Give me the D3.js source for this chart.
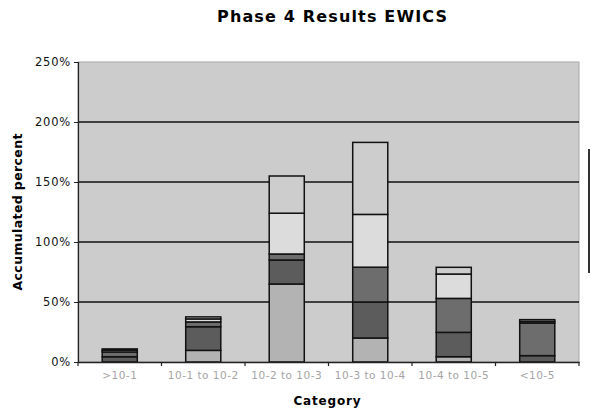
<!DOCTYPE html>
<html>
<head>
<meta charset="utf-8">
<script src="https://cdn.jsdelivr.net/npm/d3@7"></script>
<style>
  html, body { margin: 0; padding: 0; background: #ffffff; }
  svg { display: block; }
</style>
</head>
<body>
<svg id="chart" width="591" height="409"></svg>
<script>
// Category labels along the x axis
const categories = [">10-1", "10-1 to 10-2", "10-2 to 10-3", "10-3 to 10-4", "10-4 to 10-5", "<10-5"];
// Stacked series, bottom to top (percent)
const series1 = [0, 9.7, 65, 20, 4.4, 0];
const series2 = [4.4, 19.7, 20, 30, 20.3, 5.3];
const series3 = [4, 4, 5, 29, 28.3, 27.2];
const series4 = [1.5, 2.5, 34, 44, 20.3, 1.3];
const series5 = [1, 1.7, 31, 60, 5.6, 1.5];
const seriesColors = ["#b3b3b3", "#5c5c5c", "#6d6d6d", "#dcdcdc", "#cdcdcd"];
const yTicks = [0, 50, 100, 150, 200, 250];

const svg = d3.select("#chart");
const m = { left: 78, right: 12, top: 62, bottom: 47 };
const W = 591, H = 409;
const plotW = W - m.left - m.right, plotH = H - m.top - m.bottom;

const x = d3.scaleBand().domain(categories).range([m.left, m.left + plotW]).paddingInner(0.58).paddingOuter(0.29);
const xb = d3.scaleBand().domain(categories).range([m.left, m.left + plotW]);
const y = d3.scaleLinear().domain([0, 250]).range([m.top + plotH, m.top]);

// Plot area
svg.append("rect").attr("x", m.left).attr("y", m.top).attr("width", plotW).attr("height", plotH)
  .attr("fill", "#cccccc").attr("stroke", "#a6a6a6").attr("stroke-width", 1);

// Gridlines
svg.append("g").selectAll("line").data(yTicks.filter(d => d > 0 && d < 250)).join("line")
  .attr("x1", m.left).attr("x2", m.left + plotW)
  .attr("y1", d => y(d)).attr("y2", d => y(d))
  .attr("stroke", "#111").attr("stroke-width", 1.5);

// Stacked bars
const rows = categories.map((c, i) => ({ cat: c, s0: series1[i], s1: series2[i], s2: series3[i], s3: series4[i], s4: series5[i] }));
const stack = d3.stack().keys(["s0", "s1", "s2", "s3", "s4"])(rows);
svg.append("g").selectAll("g").data(stack).join("g")
  .attr("fill", (d, i) => seriesColors[i])
  .selectAll("rect").data(d => d.filter(p => p[1] - p[0] > 0)).join("rect")
  .attr("x", d => x(d.data.cat))
  .attr("width", x.bandwidth())
  .attr("y", d => y(d[1]))
  .attr("height", d => y(d[0]) - y(d[1]))
  .attr("stroke", "#111").attr("stroke-width", 1.5);

// Y axis
const yAxis = d3.axisLeft(y).tickValues(yTicks).tickFormat(d => d + "%").tickSize(4).tickPadding(3);
const gy = svg.append("g").attr("transform", `translate(${m.left},0)`).call(yAxis);
gy.select(".domain").attr("stroke", "#222").attr("stroke-width", 1.2);
gy.selectAll(".tick line").attr("stroke", "#222");
gy.selectAll("text").attr("font-family", "DejaVu Sans").attr("font-size", 11.5)
  .attr("letter-spacing", 0.8).attr("fill", "#111");

// X axis
const xAxis = d3.axisBottom(xb).tickSize(0).tickPadding(10);
const gx = svg.append("g").attr("transform", `translate(0,${m.top + plotH})`).call(xAxis);
gx.select(".domain").attr("stroke", "#222").attr("stroke-width", 1.5);
gx.selectAll("text").attr("font-family", "DejaVu Sans").attr("font-size", 10.5)
  .attr("letter-spacing", 0.5).attr("fill", "#a4a4a4");
// Category separators below the axis
svg.append("g").selectAll("line").data(categories.concat(["end"])).join("line")
  .attr("x1", (d, i) => m.left + i * xb.bandwidth()).attr("x2", (d, i) => m.left + i * xb.bandwidth())
  .attr("y1", m.top + plotH).attr("y2", m.top + plotH + 4)
  .attr("stroke", "#222").attr("stroke-width", 1.2);

// Titles
svg.append("text").attr("x", 332).attr("y", 22).attr("text-anchor", "middle")
  .attr("font-family", "DejaVu Sans").attr("font-weight", "bold").attr("font-size", 16)
  .attr("textLength", 230).attr("lengthAdjust", "spacing").attr("fill", "#000")
  .text("Phase 4 Results EWICS");
svg.append("text").attr("x", 327).attr("y", 405).attr("text-anchor", "middle")
  .attr("font-family", "DejaVu Sans").attr("font-weight", "bold").attr("font-size", 12)
  .attr("textLength", 67).attr("lengthAdjust", "spacing").attr("fill", "#000")
  .text("Category");
svg.append("text").attr("transform", "translate(22,212) rotate(-90)").attr("text-anchor", "middle")
  .attr("font-family", "DejaVu Sans").attr("font-weight", "bold").attr("font-size", 12.5)
  .attr("textLength", 157).attr("lengthAdjust", "spacing").attr("fill", "#000")
  .text("Accumulated percent");

// Legend frame edge at the right margin
svg.append("line").attr("x1", 589).attr("x2", 589).attr("y1", 149).attr("y2", 273)
  .attr("stroke", "#333").attr("stroke-width", 2);
</script>
</body>
</html>
